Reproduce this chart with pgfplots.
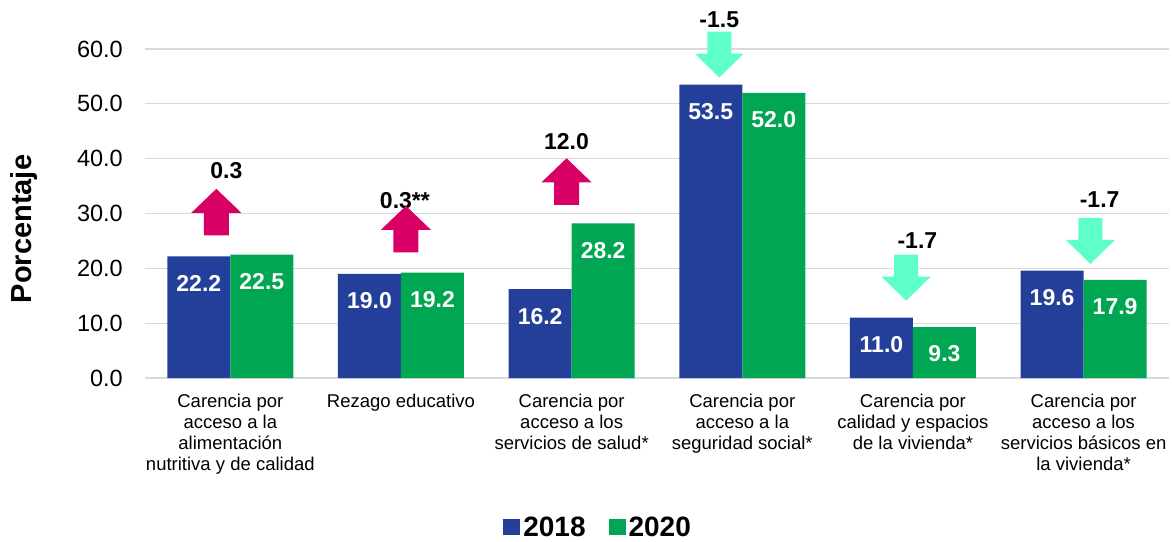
\documentclass[border=0pt]{standalone}
\usepackage{pgfplots}
\pgfplotsset{compat=1.18}
\usepackage{fontspec}
\setmainfont{Liberation Sans}
\definecolor{cblue}{HTML}{233F99}
\definecolor{cgreen}{HTML}{00A651}
\definecolor{cmag}{HTML}{D80064}
\definecolor{caqua}{HTML}{5EFFCA}
\definecolor{cgrid}{HTML}{D9D9D9}
\newcommand{\uparr}[2]{\fill[cmag] (axis cs:#1,#2) -- ++(-25pt,-24pt) -- ++(12.5pt,0pt) -- ++(0pt,-22.5pt) -- ++(25pt,0pt) -- ++(0pt,22.5pt) -- ++(12.5pt,0pt) -- cycle;}
\newcommand{\downarr}[2]{\fill[caqua] (axis cs:#1,#2) -- ++(-24.5pt,24pt) -- ++(12.5pt,0pt) -- ++(0pt,22pt) -- ++(24pt,0pt) -- ++(0pt,-22pt) -- ++(12.5pt,0pt) -- cycle;}
\begin{document}
\begin{tikzpicture}
\begin{axis}[
  scale only axis,
  width=1024pt, height=329pt,
  xmin=-0.5, xmax=5.5, ymin=0, ymax=60,
  clip=false,
  axis line style={draw=none},
  tick style={draw=none},
  major tick length=0pt,
  ymajorgrids,
  grid style={draw=cgrid, line width=1.3pt},
  ytick={0,10,...,60},
  /pgf/number format/assume math mode=true,
  yticklabel={\pgfmathprintnumber[fixed,fixed zerofill,precision=1,assume math mode=true]{\tick}},
  yticklabel style={font=\fontsize{23.5}{27}\selectfont, anchor=east, inner sep=0pt, xshift=-22pt},
  xtick={0,1,2,3,4,5},
  xticklabels={
    {Carencia por\\acceso a la\\alimentación\\nutritiva y de calidad},
    {Rezago educativo},
    {Carencia por\\acceso a los\\servicios de salud*},
    {Carencia por\\acceso a la\\seguridad social*},
    {Carencia por\\calidad y espacios\\de la vivienda*},
    {Carencia por\\acceso a los\\servicios básicos en\\la vivienda*}},
  xticklabel style={font=\fontsize{18.5}{21}\selectfont, align=center, anchor=north, inner sep=0pt, yshift=-16pt},
  every axis y label/.style={at={(axis description cs:-0.118,0.453)}, rotate=90, anchor=center},
  ylabel={\fontsize{29}{32}\selectfont\bfseries Porcentaje},
  ybar, bar width=63pt,
  nodes near coords={\pgfmathprintnumber[fixed,fixed zerofill,precision=1,assume math mode=true]{\pgfplotspointmeta}},
  every node near coord/.append style={font=\fontsize{23}{26}\selectfont\bfseries, text=white, anchor=center, yshift=-27pt},
  legend image code/.code={\fill[#1,draw=none] (0pt,-7.5pt) rectangle (17pt,8pt);},
  legend style={at={(axis description cs:0.443,-0.453)}, anchor=center, draw=none, fill=none,
    legend columns=2, font=\fontsize{28}{30}\selectfont\bfseries,
    nodes={inner sep=3pt},
    /tikz/every even column/.append style={column sep=20pt}},
]
\addplot[fill=cblue, draw=none, bar shift=-31.5pt] coordinates {(0,22.2) (1,19.0) (2,16.2) (3,53.5) (4,11.0) (5,19.6)};
\addplot[fill=cgreen, draw=none, bar shift=31.5pt] coordinates {(0,22.5) (1,19.2) (2,28.2) (3,52.0) (4,9.3) (5,17.9)};
\legend{2018,2020}
\node[font=\fontsize{23}{26}\selectfont\bfseries, inner sep=0pt] at (axis cs:-0.023,37.75) {0.3};
\node[font=\fontsize{23}{26}\selectfont\bfseries, inner sep=0pt] at (axis cs:1.023,32.4) {0.3**};
\node[font=\fontsize{23}{26}\selectfont\bfseries, inner sep=0pt] at (axis cs:1.97,43.2) {12.0};
\node[font=\fontsize{23}{26}\selectfont\bfseries, inner sep=0pt] at (axis cs:2.865,65.3) {-1.5};
\node[font=\fontsize{23}{26}\selectfont\bfseries, inner sep=0pt] at (axis cs:4.026,25.0) {-1.7};
\node[font=\fontsize{23}{26}\selectfont\bfseries, inner sep=0pt] at (axis cs:5.094,32.5) {-1.7};
\uparr{-0.082}{34.5}
\uparr{1.029}{31.4}
\uparr{1.97}{40.07}
\downarr{2.865}{54.8}
\downarr{3.96}{14.1}
\downarr{5.04}{20.8}
\end{axis}
\pgfresetboundingbox
\path (-145pt,-163pt) rectangle (1027pt,378pt);
\end{tikzpicture}
\end{document}
